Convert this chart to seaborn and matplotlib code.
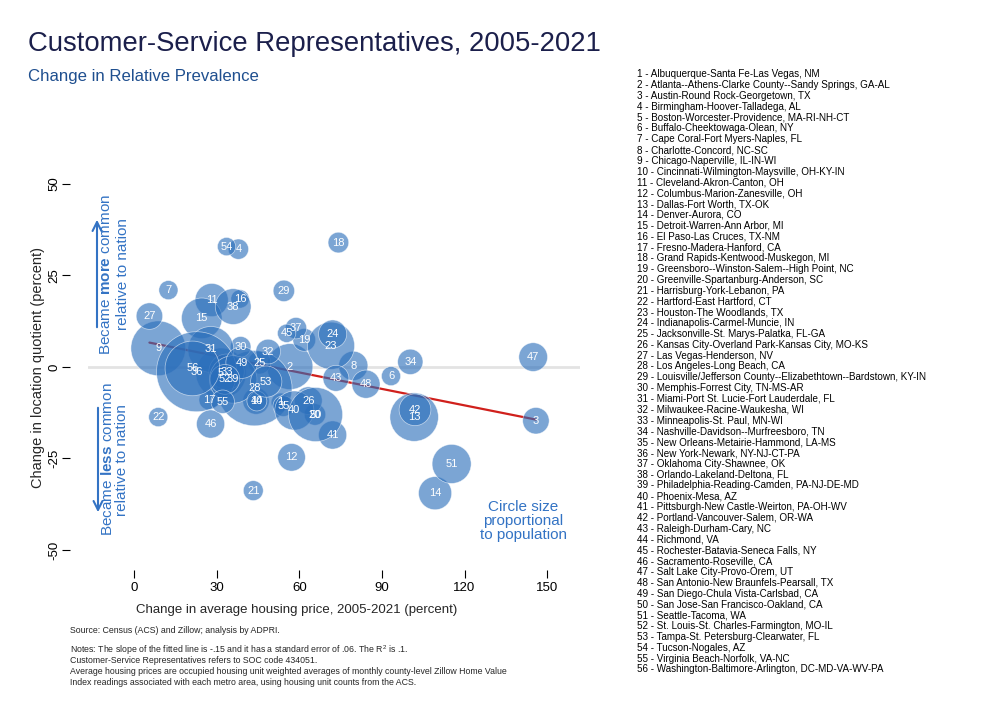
import numpy as np
import pandas as pd
import matplotlib
matplotlib.use('Agg')
import matplotlib.pyplot as plt
import seaborn as sns

metros = [
    'Albuquerque-Santa Fe-Las Vegas, NM',
    'Atlanta--Athens-Clarke County--Sandy Springs, GA-AL',
    'Austin-Round Rock-Georgetown, TX',
    'Birmingham-Hoover-Talladega, AL',
    'Boston-Worcester-Providence, MA-RI-NH-CT',
    'Buffalo-Cheektowaga-Olean, NY',
    'Cape Coral-Fort Myers-Naples, FL',
    'Charlotte-Concord, NC-SC',
    'Chicago-Naperville, IL-IN-WI',
    'Cincinnati-Wilmington-Maysville, OH-KY-IN',
    'Cleveland-Akron-Canton, OH',
    'Columbus-Marion-Zanesville, OH',
    'Dallas-Fort Worth, TX-OK',
    'Denver-Aurora, CO',
    'Detroit-Warren-Ann Arbor, MI',
    'El Paso-Las Cruces, TX-NM',
    'Fresno-Madera-Hanford, CA',
    'Grand Rapids-Kentwood-Muskegon, MI',
    'Greensboro--Winston-Salem--High Point, NC',
    'Greenville-Spartanburg-Anderson, SC',
    'Harrisburg-York-Lebanon, PA',
    'Hartford-East Hartford, CT',
    'Houston-The Woodlands, TX',
    'Indianapolis-Carmel-Muncie, IN',
    'Jacksonville-St. Marys-Palatka, FL-GA',
    'Kansas City-Overland Park-Kansas City, MO-KS',
    'Las Vegas-Henderson, NV',
    'Los Angeles-Long Beach, CA',
    'Louisville/Jefferson County--Elizabethtown--Bardstown, KY-IN',
    'Memphis-Forrest City, TN-MS-AR',
    'Miami-Port St. Lucie-Fort Lauderdale, FL',
    'Milwaukee-Racine-Waukesha, WI',
    'Minneapolis-St. Paul, MN-WI',
    'Nashville-Davidson--Murfreesboro, TN',
    'New Orleans-Metairie-Hammond, LA-MS',
    'New York-Newark, NY-NJ-CT-PA',
    'Oklahoma City-Shawnee, OK',
    'Orlando-Lakeland-Deltona, FL',
    'Philadelphia-Reading-Camden, PA-NJ-DE-MD',
    'Phoenix-Mesa, AZ',
    'Pittsburgh-New Castle-Weirton, PA-OH-WV',
    'Portland-Vancouver-Salem, OR-WA',
    'Raleigh-Durham-Cary, NC',
    'Richmond, VA',
    'Rochester-Batavia-Seneca Falls, NY',
    'Sacramento-Roseville, CA',
    'Salt Lake City-Provo-Orem, UT',
    'San Antonio-New Braunfels-Pearsall, TX',
    'San Diego-Chula Vista-Carlsbad, CA',
    'San Jose-San Francisco-Oakland, CA',
    'Seattle-Tacoma, WA',
    'St. Louis-St. Charles-Farmington, MO-IL',
    'Tampa-St. Petersburg-Clearwater, FL',
    'Tucson-Nogales, AZ',
    'Virginia Beach-Norfolk, VA-NC',
    'Washington-Baltimore-Arlington, DC-MD-VA-WV-PA',
]
metro_id = list(range(1, 57))

# change in average housing price, percent
house_chg = [53.2, 56.6, 145.9, 37.9, 31.6, 93.3, 12.5, 79.6, 8.8, 44.3,
             28.2, 57.2, 101.7, 109.3, 24.6, 38.5, 27.2, 74.2, 61.8, 65.7,
             43.3, 8.8, 71.5, 72.1, 45.5, 63.3, 5.6, 43.7, 54.4, 38.7,
             27.9, 48.7, 33.6, 100.3, 54.2, 22.7, 58.8, 36.0, 36.0, 58.2,
             72.1, 102.0, 73.3, 44.6, 55.4, 27.8, 144.9, 84.2, 39.1, 65.9,
             115.3, 33.0, 48.0, 33.6, 32.2, 21.2]
# change in location quotient, percent
lq_chg = [-9.7, 0.1, -14.7, 32.2, -1.7, -2.5, 21.0, 0.3, 5.1, -9.3,
          18.3, -24.7, -13.7, -34.5, 13.3, 18.6, -9.0, 34.0, 7.4, -13.0,
          -33.8, -13.7, 5.8, 9.0, 1.2, -9.2, 13.9, -5.8, 20.8, 5.5,
          4.8, 4.2, -1.3, 1.4, -10.7, -1.3, 10.6, 16.5, -3.4, -11.9,
          -18.6, -11.7, -3.1, -9.3, 9.2, -15.6, 2.7, -4.7, 1.2, -13.0,
          -26.5, -3.4, -4.0, 32.9, -9.5, -0.4]
# population, millions
pop_m = [1.16, 6.9, 2.3, 1.35, 8.3, 1.2, 1.2, 2.8, 9.8, 2.3,
         3.6, 2.5, 7.7, 3.6, 5.4, 1.1, 1.3, 1.4, 1.7, 1.5,
         1.3, 1.2, 7.3, 2.6, 1.7, 2.5, 2.3, 18.6, 1.5, 1.4,
         6.9, 2.0, 4.1, 2.1, 1.4, 21.0, 1.5, 4.2, 7.4, 5.0,
         2.6, 3.3, 2.2, 1.3, 1.1, 2.6, 2.7, 2.6, 3.3, 9.6,
         5.0, 2.9, 3.2, 1.1, 1.8, 9.8]

fit_intercept = 7.5
fit_slope = -0.15

xticks = [0, 30, 60, 90, 120, 150]
yticks = [-50, -25, 0, 25, 50]

sns.set_theme(style='white')
plt.rcParams['font.family'] = ['Liberation Sans', 'DejaVu Sans']
plt.rcParams['axes.unicode_minus'] = False
plt.rcParams['mathtext.fontset'] = 'custom'
plt.rcParams['mathtext.rm'] = 'Liberation Sans'
plt.rcParams['mathtext.bf'] = 'Liberation Sans:bold'

df = pd.DataFrame({'id': metro_id, 'house': house_chg, 'lq': lq_chg, 'pop': pop_m})

H = 727.0
def fy(py):
    return 1 - py / H

blue = '#2a6ebb'
txtblue = '#3373c4'

fig = plt.figure(figsize=(10, 7.27), dpi=100)
ax = fig.add_axes([0.088, 0.227, 0.492, 0.539])

ax.axhline(0, color='#e3e3e3', lw=2, zorder=1)
xs = np.array([df['house'].min(), df['house'].max()])
ax.plot(xs, fit_intercept + fit_slope * xs, color='#d0201c', lw=1.6, zorder=2)

pmin, pmax = df['pop'].min(), df['pop'].max()
sns.scatterplot(data=df, x='house', y='lq', size='pop',
                sizes=(158 * pmin, 158 * pmax), size_norm=(pmin, pmax),
                color=blue, alpha=0.62, edgecolor='white', linewidth=0.5,
                legend=False, ax=ax, zorder=3)

for i, x, y in zip(df['id'], df['house'], df['lq']):
    ax.text(x, y, str(i), ha='center', va='center', color='white',
            fontsize=8, zorder=4)

ax.set_xlim(-16.7, 161.9)
ax.set_ylim(-53.3, 53.8)
ax.set_xticks(xticks)
ax.set_yticks(yticks)
for s in ax.spines.values():
    s.set_visible(False)
ax.spines['left'].set_position(('outward', 13))
ax.spines['bottom'].set_position(('outward', 6))
ax.tick_params(axis='both', which='major', direction='out', length=5.5,
               width=0.8, color='black', labelsize=9.5, labelcolor='black',
               left=True, bottom=True, pad=3)
ax.tick_params(axis='y', pad=1.5)
plt.setp(ax.get_yticklabels(), rotation=90, va='center')
ax.set_xlabel('')
ax.set_ylabel('')

fig.text(0.297, fy(610), 'Change in average housing price, 2005-2021 (percent)',
         ha='center', va='center', fontsize=9.5)
fig.text(0.038, fy(367), 'Change in location quotient (percent)',
         ha='center', va='center', rotation=90, fontsize=10.5)

# side annotations
fig.text(0.106, fy(274), r'Became $\mathbf{more}$ common', rotation=90,
         ha='center', va='center', fontsize=11, color=txtblue)
fig.text(0.123, fy(274), 'relative to nation', rotation=90,
         ha='center', va='center', fontsize=11, color=txtblue)
fig.text(0.107, fy(459), r'Became $\mathbf{less}$ common', rotation=90,
         ha='center', va='center', fontsize=11, color=txtblue)
fig.text(0.122, fy(460), 'relative to nation', rotation=90,
         ha='center', va='center', fontsize=11, color=txtblue)
ax.annotate('', xy=(0.097, fy(217)), xytext=(0.097, fy(330)),
            xycoords='figure fraction', textcoords='figure fraction',
            arrowprops=dict(arrowstyle='->', color=txtblue, lw=1.5,
                            mutation_scale=16))
ax.annotate('', xy=(0.098, fy(515)), xytext=(0.098, fy(405)),
            xycoords='figure fraction', textcoords='figure fraction',
            arrowprops=dict(arrowstyle='->', color=txtblue, lw=1.5,
                            mutation_scale=16))
fig.text(0.523, fy(521), 'Circle size\nproportional\nto population',
         ha='center', va='center', fontsize=11, color=txtblue, linespacing=1.0)

# titles
fig.text(0.028, fy(50.7), 'Customer-Service Representatives, 2005-2021',
         fontsize=19.8, color='#1b1f4b', va='baseline')
fig.text(0.028, fy(81), 'Change in Relative Prevalence',
         fontsize=12.1, color='#1f4f8f', va='baseline')

# metro key
for i, name in enumerate(metros):
    fig.text(0.637, fy(74.3 + i * 10.82), f'{i + 1} - {name}',
             fontsize=7.1, va='center', color='black')

# source and notes
fig.text(0.070, fy(630.7), 'Source: Census (ACS) and Zillow; analysis by ADPRI.',
         fontsize=6.3, va='center')
notes = ['Notes: The slope of the fitted line is -.15 and it has a standard error of .06. The R$^2$ is .1.',
         'Customer-Service Representatives refers to SOC code 434051.',
         'Average housing prices are occupied housing unit weighted averages of monthly county-level Zillow Home Value',
         'Index readings associated with each metro area, using housing unit counts from the ACS.']
for k, line in enumerate(notes):
    fig.text(0.070, fy(650.3 + k * 10.6), line, fontsize=6.3, va='center')

fig.savefig('out.png', dpi=100, facecolor='white')
